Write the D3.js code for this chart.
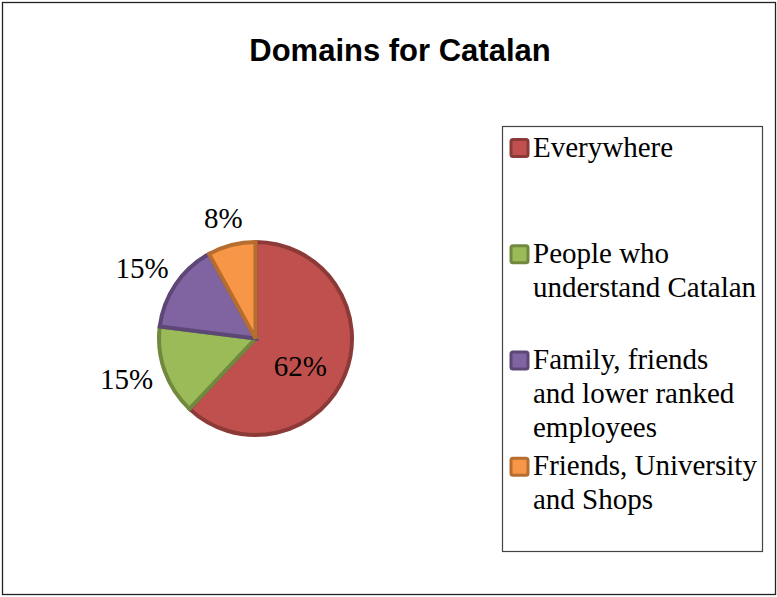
<!DOCTYPE html>
<html>
<head>
<meta charset="utf-8">
<script src="https://cdn.jsdelivr.net/npm/d3@7"></script>
<style>
  html, body { margin: 0; padding: 0; background: #fff; }
  svg { display: block; }
</style>
</head>
<body>
<svg id="chart" width="777" height="597"></svg>
<script>
// Domains in which Catalan is used (share of respondents, %)
const categories = [
  "Everywhere",
  "People who understand Catalan",
  "Family, friends and lower ranked employees",
  "Friends, University and Shops"
];
const legendLines = [
  ["Everywhere"],
  ["People who", "understand Catalan"],
  ["Family, friends", "and lower ranked", "employees"],
  ["Friends, University", "and Shops"]
];
const values = [62, 15, 15, 8];
const fills = ["#C0504D", "#9BBB59", "#8064A2", "#F79646"];
const strokes = ["#8C3A38", "#71893F", "#5C4776", "#B66D31"];
const title = "Domains for Catalan";

const svg = d3.select("#chart");
const W = 777, H = 597;
const serif = "'Liberation Serif', 'Times New Roman', serif";

// chart frame
svg.append("rect")
  .attr("x", 2.5).attr("y", 2.5)
  .attr("width", W - 4).attr("height", H - 5)
  .attr("fill", "#fff").attr("stroke", "#222").attr("stroke-width", 1.3);

// title
svg.append("text")
  .attr("x", 400).attr("y", 61)
  .attr("text-anchor", "middle")
  .style("font-family", "'Liberation Sans', Arial, sans-serif")
  .style("font-weight", "bold")
  .style("font-size", "31px")
  .text(title);

// pie
const cx = 255.5, cy = 338.5, r = 96.5;
const data = categories.map((c, i) => ({ name: c, value: values[i], i }));
const pie = d3.pie().sort(null).value(d => d.value);
const arcs = pie(data);
const arc = d3.arc().innerRadius(0).outerRadius(r);

const g = svg.append("g").attr("transform", `translate(${cx},${cy})`);
g.selectAll("path.slice")
  .data(arcs)
  .join("path")
  .attr("class", "slice")
  .attr("d", arc)
  .attr("fill", d => fills[d.data.i])
  .attr("stroke", d => strokes[d.data.i])
  .attr("stroke-width", 4)
  .attr("stroke-linejoin", "miter");

// data labels: large slice inside, small slices just outside the rim
const fontSize = 29;
const labels = g.selectAll("text.lbl")
  .data(arcs)
  .join("text")
  .attr("class", "lbl")
  .attr("text-anchor", "middle")
  .style("font-family", serif)
  .style("font-size", fontSize + "px")
  .text(d => d.data.value + "%");

labels.each(function(d) {
  const t = d3.select(this);
  const frac = (d.endAngle - d.startAngle) / (2 * Math.PI);
  const mid = (d.startAngle + d.endAngle) / 2;
  const dx = Math.sin(mid), dy = -Math.cos(mid);
  if (frac > 0.3) {
    const c = d3.arc().innerRadius(0).outerRadius(r).centroid(d);
    t.attr("x", c[0]).attr("y", c[1]).attr("dy", "0.69em");
  } else {
    const w = this.getComputedTextLength();
    const hh = 13, pad = 14;
    const x = dx * (r + pad) + dx * w / 2;
    const y = dy * (r + pad) + dy * hh - 1;
    t.attr("x", x).attr("y", y).attr("dy", "0.35em");
  }
});

// legend
const lx = 502.5, ly = 126.5, lw = 260, lh = 425;
svg.append("rect")
  .attr("x", lx).attr("y", ly)
  .attr("width", lw).attr("height", lh)
  .attr("fill", "#fff").attr("stroke", "#444").attr("stroke-width", 1.2);

const slot = lh / categories.length;
const lineH = 34;
const items = svg.selectAll("g.leg")
  .data(categories)
  .join("g")
  .attr("class", "leg")
  .attr("transform", (d, i) => `translate(${lx}, ${ly + i * slot + 30})`);

items.append("rect")
  .attr("x", 8.5).attr("y", -17)
  .attr("width", 17).attr("height", 17)
  .attr("rx", 2)
  .attr("fill", (d, i) => fills[i])
  .attr("stroke", (d, i) => strokes[i])
  .attr("stroke-width", 3);

items.append("text")
  .style("font-family", serif)
  .style("font-size", fontSize + "px")
  .selectAll("tspan")
  .data((d, i) => legendLines[i])
  .join("tspan")
  .attr("x", 30.5)
  .attr("y", (d, j) => j * lineH)
  .text(d => d);
</script>
</body>
</html>
